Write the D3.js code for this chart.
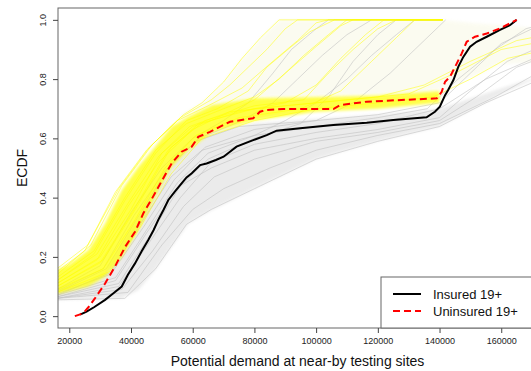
<!DOCTYPE html>
<html>
<head>
<meta charset="utf-8">
<script src="https://cdn.jsdelivr.net/npm/d3@7"></script>
<style>
  body { margin: 0; background: #fff; }
  text { font-family: "Liberation Sans", Arial, sans-serif; }
</style>
</head>
<body>
<script>
var width = 531, height = 371;
var plotL = 58, plotR = 545, plotT = 8, plotB = 328;

var xTicks = [20000, 40000, 60000, 80000, 100000, 120000, 140000, 160000];
var yTicks = [0.0, 0.2, 0.4, 0.6, 0.8, 1.0];
var legendLabels = ["Insured 19+", "Uninsured 19+"];

// observed ECDFs
var insured = [[23500,0.005],[25600,0.015],[28000,0.03],[31600,0.055],[34000,0.075],[37000,0.10],
  [39000,0.14],[41300,0.178],[43500,0.22],[45600,0.257],[47300,0.29],[48800,0.324],[50600,0.36],
  [52100,0.392],[54200,0.42],[56400,0.448],[58000,0.468],[59700,0.482],[62400,0.51],[64500,0.515],
  [67500,0.527],[70000,0.538],[74200,0.572],[79600,0.594],[84000,0.611],[87200,0.626],[94800,0.634],
  [105600,0.645],[116400,0.653],[125000,0.662],[135800,0.671],[138500,0.69],[140100,0.707],
  [141800,0.746],[142800,0.763],[144500,0.797],[146100,0.842],[147700,0.875],[149900,0.909],
  [152000,0.926],[155300,0.943],[159600,0.966],[162800,0.982],[165000,1.0]];

var uninsured = [[21800,0.0],[23500,0.006],[25100,0.017],[26200,0.03],[28300,0.06],[31600,0.11],
  [34800,0.167],[38100,0.234],[41300,0.285],[44000,0.347],[46700,0.395],[49900,0.455],[53200,0.516],
  [56400,0.555],[59700,0.572],[61800,0.605],[65600,0.622],[69900,0.645],[72100,0.656],[79600,0.668],
  [81800,0.69],[84000,0.696],[89400,0.699],[105600,0.699],[107700,0.712],[116400,0.724],[139100,0.735],
  [140700,0.757],[141800,0.791],[143400,0.808],[145600,0.853],[147200,0.887],[148800,0.926],
  [151500,0.943],[155300,0.954],[159600,0.971],[162800,0.988],[165000,1.0]];

// dense cores of the two bundles of thin curves
var yellowUpper = [[16000,0.155],[20000,0.175],[26200,0.223],[31600,0.313],[37000,0.426],[42400,0.504],
  [47800,0.572],[53200,0.64],[58600,0.673],[66200,0.712],[80000,0.735],[100000,0.74],[120000,0.745],[140000,0.76]];
var yellowLower = [[16000,0.075],[20000,0.085],[26200,0.10],[31600,0.133],[37000,0.20],[42400,0.29],
  [47800,0.403],[53200,0.504],[58600,0.56],[66200,0.62],[80000,0.66],[100000,0.69],[120000,0.70],[140000,0.72]];
var grayUpper = [[16000,0.095],[25000,0.11],[31600,0.15],[37000,0.24],[42400,0.33],[47800,0.43],
  [53200,0.52],[58600,0.57],[66200,0.62],[80000,0.65],[100000,0.665],[120000,0.68],[140000,0.70]];
var grayLower = [[16000,0.055],[37000,0.06],[42400,0.088],[47800,0.156],[53200,0.234],[58600,0.313],
  [66200,0.358],[80000,0.43],[100000,0.53],[120000,0.59],[140000,0.64],[160000,0.75],[175000,0.82]];
var fanUpper = [[56000,0.68],[63000,0.72],[70000,0.79],[76000,0.87],[82000,0.94],[88000,1.0],
  [141000,1.0],[150000,0.99],[175000,0.97]];
var fanLower = [[56000,0.66],[80000,0.735],[100000,0.74],[120000,0.745],[140000,0.76],[160000,0.85],[175000,0.86]];

// individual thin curves
var yellowRuns = [
  [[16000,0.16],[26000,0.24],[36000,0.43],[46000,0.57],[56000,0.67],[66000,0.73],[72000,0.78],[78000,0.84],[84000,0.90],[90000,0.97],[94000,1.0],[141000,1.0]],
  [[16000,0.13],[28000,0.22],[38000,0.40],[48000,0.56],[58000,0.65],[70000,0.70],[80000,0.74],[88000,0.80],[96000,0.88],[104000,0.95],[110000,1.0],[141000,1.0]],
  [[16000,0.11],[30000,0.20],[40000,0.36],[50000,0.55],[60000,0.64],[75000,0.69],[90000,0.72],[100000,0.78],[108000,0.87],[116000,0.95],[122000,1.0],[141000,1.0]],
  [[16000,0.10],[30000,0.18],[41000,0.36],[52000,0.56],[62000,0.65],[80000,0.70],[100000,0.72],[120000,0.74],[135000,0.78],[150000,0.86],[165000,0.93],[175000,0.95]],
  [[16000,0.12],[29000,0.21],[39000,0.38],[49000,0.54],[59000,0.64],[72000,0.69],[90000,0.71],[110000,0.73],[130000,0.75],[145000,0.82],[160000,0.90],[175000,0.93]],
  [[16000,0.14],[27000,0.24],[37000,0.44],[47000,0.58],[57000,0.68],[63000,0.72],[70000,0.79],[76000,0.87],[82000,0.94],[88000,1.0],[141000,1.0]],
  [[16000,0.09],[31000,0.16],[41000,0.32],[51000,0.50],[61000,0.61],[75000,0.67],[95000,0.70],[108000,0.76],[118000,0.86],[126000,0.94],[132000,1.0],[141000,1.0]],
  [[16000,0.11],[29000,0.19],[39000,0.37],[49000,0.52],[60000,0.63],[70000,0.68],[80000,0.73],[90000,0.82],[100000,0.91],[108000,0.98],[112000,1.0],[141000,1.0]],
  [[16000,0.08],[33000,0.15],[43000,0.30],[53000,0.48],[63000,0.60],[80000,0.66],[100000,0.70],[120000,0.72],[138000,0.74],[150000,0.80],[162000,0.87],[175000,0.90]],
  [[16000,0.15],[25000,0.22],[35000,0.42],[45000,0.56],[55000,0.66],[65000,0.71],[76000,0.77],[86000,0.86],[94000,0.93],[100000,0.99],[104000,1.0],[141000,1.0]],
  [[16000,0.12],[28000,0.21],[38000,0.39],[48000,0.55],[58000,0.66],[68000,0.70],[78000,0.76],[84000,0.84],[92000,0.91],[98000,0.96],[106000,1.0],[141000,1.0]],
  [[16000,0.10],[31000,0.19],[42000,0.37],[53000,0.57],[64000,0.66],[80000,0.71],[96000,0.73],[104000,0.82],[112000,0.90],[120000,0.97],[126000,1.0],[141000,1.0]]
];
var grayRuns = [
  [[16000,0.09],[30000,0.17],[40000,0.35],[50000,0.50],[60000,0.60],[70000,0.66],[78000,0.72],[86000,0.82],[92000,0.90],[100000,0.97],[104000,1.0],[141000,1.0]],
  [[16000,0.08],[32000,0.16],[42000,0.33],[52000,0.50],[62000,0.60],[76000,0.66],[86000,0.72],[94000,0.80],[102000,0.88],[110000,0.95],[118000,1.0],[141000,1.0]],
  [[16000,0.07],[34000,0.15],[44000,0.30],[54000,0.46],[64000,0.57],[80000,0.63],[100000,0.66],[112000,0.72],[124000,0.82],[134000,0.92],[142000,1.0]],
  [[16000,0.06],[36000,0.10],[46000,0.25],[56000,0.40],[66000,0.52],[80000,0.58],[100000,0.62],[120000,0.65],[140000,0.70],[155000,0.80],[175000,0.89]],
  [[16000,0.055],[38000,0.06],[48000,0.16],[58000,0.31],[66000,0.36],[80000,0.43],[100000,0.53],[120000,0.59],[140000,0.64],[155000,0.72],[175000,0.81]],
  [[16000,0.075],[33000,0.14],[43000,0.31],[53000,0.47],[63000,0.56],[80000,0.61],[100000,0.64],[120000,0.67],[136000,0.70],[146000,0.80],[158000,0.90],[168000,0.97],[175000,0.99]],
  [[16000,0.065],[35000,0.12],[45000,0.28],[55000,0.43],[65000,0.53],[80000,0.60],[95000,0.65],[104000,0.74],[112000,0.86],[120000,0.95],[126000,1.0],[141000,1.0]],
  [[16000,0.06],[37000,0.09],[47000,0.22],[57000,0.37],[67000,0.47],[80000,0.53],[100000,0.59],[120000,0.62],[140000,0.66],[152000,0.74],[165000,0.84],[175000,0.88]],
  [[16000,0.07],[35000,0.13],[45000,0.29],[55000,0.45],[65000,0.55],[80000,0.61],[90000,0.66],[100000,0.72],[110000,0.80],[118000,0.88],[126000,0.95],[132000,1.0],[141000,1.0]],
  [[16000,0.085],[31000,0.16],[41000,0.34],[51000,0.49],[61000,0.59],[75000,0.64],[100000,0.66],[120000,0.68],[140000,0.72],[150000,0.82],[160000,0.92],[170000,0.97],[175000,0.98]],
  [[16000,0.065],[36000,0.11],[46000,0.27],[56000,0.44],[66000,0.50],[80000,0.56],[100000,0.60],[120000,0.63],[140000,0.67],[150000,0.76],[162000,0.86],[175000,0.92]],
  [[16000,0.06],[39000,0.08],[50000,0.24],[60000,0.36],[70000,0.43],[85000,0.50],[100000,0.56],[120000,0.61],[140000,0.65],[158000,0.74],[175000,0.84]]
];

var color_yellow = "#ffff00", color_gray = "#c8c8c8";

var x = d3.scaleLinear().domain([16340, 174180]).range([plotL, plotR]);
var y = d3.scaleLinear().domain([-0.04, 1.04]).range([plotB, plotT]);

var svg = d3.select("body").append("svg")
  .attr("width", width).attr("height", height);

var defs = svg.append("defs");
defs.append("clipPath").attr("id", "clip")
  .append("rect").attr("x", plotL).attr("y", plotT)
  .attr("width", plotR - plotL).attr("height", plotB - plotT);
defs.append("filter").attr("id", "soft").attr("x", "-10%").attr("y", "-10%")
  .attr("width", "120%").attr("height", "120%")
  .append("feGaussianBlur").attr("stdDeviation", 1.8);

var line = d3.line().x(function(d) { return x(d[0]); }).y(function(d) { return y(d[1]); });

function band(upper, lower) {
  return line(upper.concat(lower.slice().reverse())) + "Z";
}

var g = svg.append("g").attr("clip-path", "url(#clip)");

g.append("path").attr("d", band(fanUpper, fanLower))
  .attr("fill", "#f0f0c0").attr("opacity", 0.22).attr("filter", "url(#soft)");
g.append("path").attr("d", band(grayUpper, grayLower))
  .attr("fill", color_gray).attr("opacity", 0.35).attr("filter", "url(#soft)");
g.selectAll(".grun").data(grayRuns).enter().append("path")
  .attr("class", "grun").attr("d", line)
  .attr("fill", "none").attr("stroke", "#bdbdbd")
  .attr("stroke-width", 1).attr("opacity", 0.55);
g.append("path").attr("d", band(yellowUpper, yellowLower))
  .attr("fill", color_yellow).attr("opacity", 0.72).attr("filter", "url(#soft)");
g.selectAll(".yrun").data(yellowRuns).enter().append("path")
  .attr("class", "yrun").attr("d", line)
  .attr("fill", "none").attr("stroke", color_yellow)
  .attr("stroke-width", 1).attr("opacity", 0.5);

g.append("path").attr("d", line(insured))
  .attr("fill", "none").attr("stroke", "#000").attr("stroke-width", 2);
g.append("path").attr("d", line(uninsured))
  .attr("fill", "none").attr("stroke", "#ff0000").attr("stroke-width", 2)
  .attr("stroke-dasharray", "7,4");

// box
svg.append("rect").attr("x", plotL).attr("y", plotT)
  .attr("width", plotR - plotL).attr("height", plotB - plotT)
  .attr("fill", "none").attr("stroke", "#666").attr("stroke-width", 1);

// x axis
var xa = svg.append("g").attr("transform", "translate(0," + plotB + ")")
  .call(d3.axisBottom(x).tickValues(xTicks).tickFormat(d3.format("d")).tickSize(5).tickPadding(5));
xa.select(".domain").remove();
xa.selectAll("line").attr("stroke", "#444");
xa.selectAll("text").attr("font-size", 9).attr("fill", "#222")
  .attr("font-family", "'Liberation Sans', Arial, sans-serif");

// y axis
var ya = svg.append("g").attr("transform", "translate(" + plotL + ",0)")
  .call(d3.axisLeft(y).tickValues(yTicks).tickFormat(d3.format(".1f")).tickSize(5));
ya.select(".domain").remove();
ya.selectAll("line").attr("stroke", "#444");
ya.selectAll("text").remove();
ya.selectAll(".tick").append("text")
  .attr("transform", "translate(-12.5,0) rotate(-90)")
  .attr("text-anchor", "middle").attr("font-size", 9).attr("fill", "#222")
  .text(function(d) { return d3.format(".1f")(d); });

svg.append("text").attr("x", (plotL + 531) / 2 + 3).attr("y", 366)
  .attr("text-anchor", "middle").attr("font-size", 14).attr("fill", "#111")
  .text("Potential demand at near-by testing sites");
svg.append("text").attr("transform", "translate(27," + (plotT + plotB) / 2 + ") rotate(-90)")
  .attr("text-anchor", "middle").attr("font-size", 14).attr("fill", "#111")
  .text("ECDF");

// legend
var lg = svg.append("g");
lg.append("rect").attr("x", 381).attr("y", 277).attr("width", 170).attr("height", plotB - 277)
  .attr("fill", "#fff").attr("stroke", "#666").attr("stroke-width", 1);
lg.append("line").attr("x1", 393).attr("x2", 421).attr("y1", 294).attr("y2", 294)
  .attr("stroke", "#000").attr("stroke-width", 2);
lg.append("line").attr("x1", 393).attr("x2", 421).attr("y1", 311).attr("y2", 311)
  .attr("stroke", "#ff0000").attr("stroke-width", 2).attr("stroke-dasharray", "7,4");
lg.selectAll(".ltxt").data(legendLabels).enter().append("text")
  .attr("class", "ltxt").attr("x", 433).attr("y", function(d, i) { return 299 + i * 17; })
  .attr("font-size", 13).attr("fill", "#111")
  .text(function(d) { return d; });
</script>
</body>
</html>
